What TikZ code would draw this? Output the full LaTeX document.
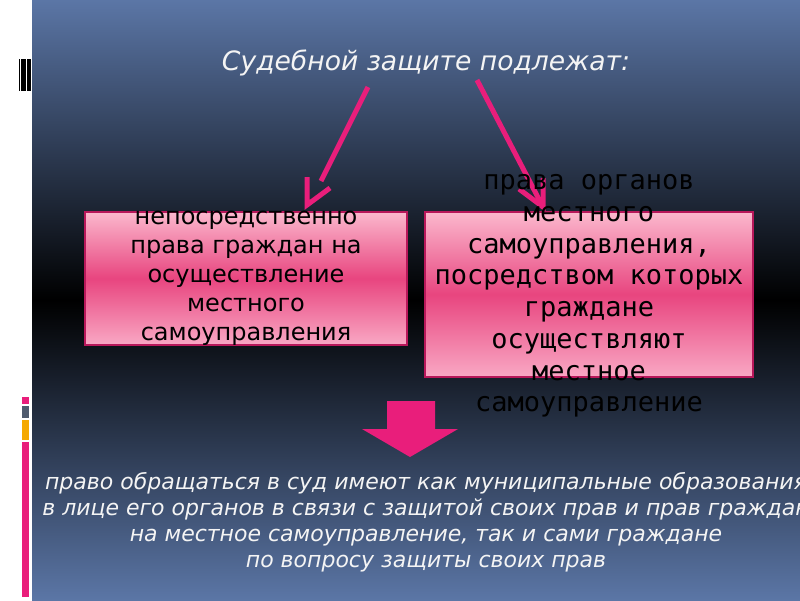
\documentclass[tikz,border=0pt]{standalone}
\usepackage{fontspec}
\setmainfont{DejaVu Sans}
\newfontfamily\boxmono{DejaVu Sans Mono}
\definecolor{bgblue}{HTML}{5B76A6}
\definecolor{hotpink}{HTML}{E91E7B}
\definecolor{boxborder}{HTML}{B8175A}
\definecolor{pinktop}{HTML}{FBB8CD}
\definecolor{pinkmid}{HTML}{E8457F}
\definecolor{pinkbot}{HTML}{F9A8C4}
\definecolor{decogray}{HTML}{4F5B6E}
\definecolor{decoorange}{HTML}{F5A800}
\definecolor{offwhite}{HTML}{F4F4F4}
\begin{document}
\begin{tikzpicture}[x=1pt,y=-1pt,
  pinkbox/.style={rectangle, draw=boxborder, line width=1.3pt, inner sep=0pt,
    top color=pinktop, bottom color=pinkbot, middle color=pinkmid},
  pinkline/.style={draw=hotpink, line width=5pt},
  lefttext/.style={align=center, inner sep=0pt, text=black,
    font=\fontsize{24}{29}\selectfont},
  righttext/.style={align=center, inner sep=0pt, text=black,
    font=\boxmono\fontsize{27}{31.7}\selectfont},
  titletext/.style={inner sep=0pt, text=offwhite,
    font=\itshape\fontsize{26.6}{31}\selectfont},
  bottext/.style={align=center, inner sep=0pt, text=offwhite,
    font=\itshape\fontsize{22}{26}\selectfont}]
\useasboundingbox (0,0) rectangle (800,600);
\clip (0,0) rectangle (800,600);
\fill[white] (0,0) rectangle (800,600);
\shade[top color=bgblue, bottom color=bgblue, middle color=black] (32,0) rectangle (800,600);
% left decorations
\fill[black] (19,59) rectangle (20.3,91);
\fill[black] (21.3,59) rectangle (22.6,91);
\fill[black] (23.3,59) rectangle (26.2,91);
\fill[black] (27,59) rectangle (31,91);
\fill[hotpink] (22,397) rectangle (29,404);
\fill[decogray] (22,406) rectangle (29,418);
\fill[decoorange] (22,420) rectangle (29,440);
\fill[hotpink] (22,442) rectangle (29,597);
% title
\node[titletext] (title) at (426,63) {Судебной защите подлежат:};
% arrows from title
\coordinate (l0) at (368,87);
\coordinate (l1) at (321,181);
\coordinate (ltip) at (307,205);
\coordinate (la) at (307,177);
\coordinate (lb) at (330,188);
\draw[pinkline] (l0) -- (l1);
\draw[pinkline] (la) -- (ltip) -- (lb);
\coordinate (r0) at (477,80);
\coordinate (rtip) at (543,207);
\coordinate (ra) at (543,178);
\coordinate (rb) at (519,189);
\draw[pinkline] (r0) -- (rtip);
\draw[pinkline] (ra) -- (rtip) -- (rb);
% boxes
\node[pinkbox, minimum width=322pt, minimum height=133pt] (lbox) at (246,278.5) {};
\node[pinkbox, minimum width=328pt, minimum height=165pt] (rbox) at (589,294.5) {};
\node[lefttext] (ltext) at (lbox.center) {непосредственно\\права граждан на\\осуществление\\местного\\самоуправления};
\node[righttext] (rtext) at (589,296) {права органов\\местного\\самоуправления,\\посредством которых\\граждане\\осуществляют\\местное\\самоуправление};
% down block arrow
\coordinate (d1) at (387,401);
\coordinate (d2) at (435,401);
\coordinate (d3) at (435,429);
\coordinate (d4) at (458,429);
\coordinate (dtip) at (410,457);
\coordinate (d6) at (362,429);
\coordinate (d7) at (387,429);
\fill[hotpink] (d1) -- (d2) -- (d3) -- (d4) -- (dtip) -- (d6) -- (d7) -- cycle;
% bottom text
\node[bottext] (bt) at (426,522.5) {право обращаться в суд имеют как муниципальные образования\\в лице его органов в связи с защитой своих прав и прав граждан\\на местное самоуправление, так и сами граждане\\по вопросу защиты своих прав};
\end{tikzpicture}
\end{document}
